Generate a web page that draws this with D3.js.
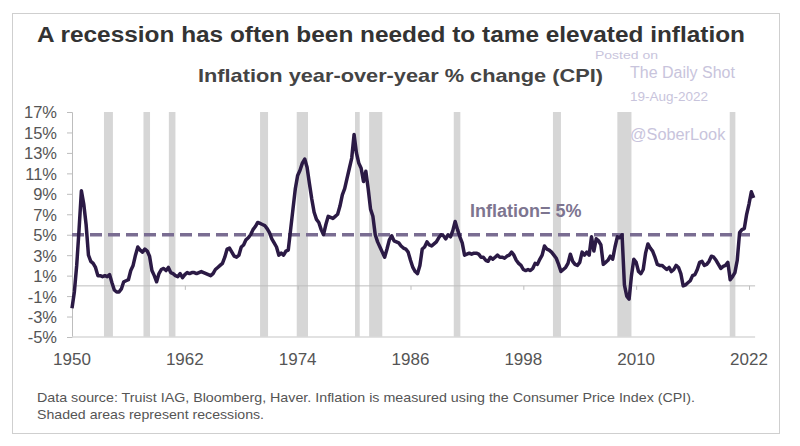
<!DOCTYPE html>
<html>
<head>
<meta charset="utf-8">
<script src="https://cdn.jsdelivr.net/npm/d3@7"></script>
<style>
  body { margin: 0; background: #fff; }
  text { font-family: 'Liberation Sans', Arial, sans-serif; }
</style>
</head>
<body>
<div id="app"></div>
<script>
'use strict'

// quarterly CPI YoY % change, starting Q1 1950
const firstYear = 1950
const inflation = [
  -2.2, -0.6, 2.0, 5.5,   9.3, 8.0, 6.0, 3.0,   2.4, 2.2, 1.8, 1.0,   1.0, 0.9, 1.0, 0.9,
  1.1, 0.3, -0.4, -0.6,   -0.6, -0.3, 0.4, 0.5,   0.6, 1.5, 2.0, 3.0,   3.8, 3.5, 3.3, 3.6,
  3.4, 2.9, 1.5, 1.0,   0.4, 1.2, 1.6, 1.7,   1.5, 1.8, 1.3, 1.2,   1.0, 0.9, 1.2, 0.8,
  1.1, 1.3, 1.2, 1.3,   1.3, 1.2, 1.3, 1.4,   1.3, 1.2, 1.1, 1.0,   1.2, 1.6, 1.8, 2.0,
  2.2, 2.8, 3.6, 3.7,   3.3, 2.9, 2.8, 3.0,   3.8, 4.0, 4.5, 4.7,   5.0, 5.5, 5.8, 6.2,
  6.1, 6.0, 5.9, 5.6,   5.2, 4.6, 4.2, 3.8,   3.0, 3.2, 3.0, 3.4,   3.5, 5.5, 7.5, 9.5,
  10.8, 11.3, 12.0, 12.4,   11.6, 10.0, 8.5, 7.2,   6.5, 6.2, 5.5, 5.0,   6.0, 6.8, 6.7, 6.6,
  6.8, 7.0, 7.8, 8.9,   9.5, 10.5, 11.5, 12.5,   14.8, 13.0, 12.0, 11.5,   10.2, 11.2, 9.5, 7.5,
  6.8, 5.0, 4.3, 3.8,   3.3, 2.8, 3.6, 4.5,   4.9, 4.4, 4.3, 4.2,   3.9, 3.7, 3.6, 3.3,
  2.5, 1.8, 1.4, 1.2,   2.0, 3.6, 3.8, 4.3,   4.0, 3.9, 4.1, 4.3,   4.7, 5.0, 4.9, 4.6,
  5.0, 4.8, 5.4, 6.3,   5.5, 4.8, 4.2, 3.0,   3.1, 3.2, 3.1, 3.2,   3.2, 3.1, 2.8, 2.8,
  2.5, 2.4, 2.8, 2.6,   2.8, 3.0, 2.8, 2.8,   2.7, 2.9, 3.0, 3.3,   3.0, 2.5, 2.2, 2.0,
  1.6, 1.5, 1.6, 1.5,   1.7, 2.2, 2.1, 2.6,   3.0, 3.9, 3.6, 3.5,   3.3, 3.0, 2.7, 2.1,
  1.4, 1.6, 1.8, 2.2,   3.1, 2.4, 2.1, 2.0,   2.3, 3.3, 3.0, 3.3,   3.0, 4.8, 3.4, 4.6,
  4.4, 4.0, 2.1, 2.3,   2.5, 2.9, 2.6, 3.8,   4.8, 4.7, 5.0, 0.1,   -1.0, -1.3, 1.0, 2.6,
  2.3, 1.4, 1.2, 1.6,   3.2, 4.1, 3.7, 3.4,   2.8, 2.1, 2.0, 2.0,   1.8, 1.6, 1.8, 1.4,
  1.6, 2.0, 1.8, 1.2,   0.0, 0.1, 0.3, 0.5,   1.0, 1.1, 1.6, 2.3,   2.4, 2.0, 2.1, 2.4,
  2.9, 2.8, 2.5, 2.1,   1.7, 1.9, 2.0, 2.3,   0.6, 0.9, 1.3, 2.5,   5.2, 5.5, 5.6, 7.0,
  8.0, 9.2, 8.6
]

// recessions as [start, end] in decimal years
const recessions = [
  [1953.4, 1954.35], [1957.6, 1958.3], [1960.3, 1961.0], [1970.0, 1970.85],
  [1973.9, 1975.1], [1980.1, 1980.6], [1981.6, 1983.0], [1990.6, 1991.3],
  [2001.15, 2002.0], [2008.0, 2009.5], [2019.95, 2020.55]
]

const xTicks = [1950, 1962, 1974, 1986, 1998, 2010, 2022]
const yTicks = [-5, -3, -1, 1, 3, 5, 7, 9, 11, 13, 15, 17]
const threshold = 5

const W = 800, H = 446
const svg = d3.select('#app').append('svg')
  .attr('width', W)
  .attr('height', H)

// frame
svg.append('rect')
  .attr('x', 12.5).attr('y', 13.5)
  .attr('width', 767).attr('height', 420)
  .style('fill', '#fff')
  .style('stroke', '#cfcfcf')

const xScale = d3.scaleLinear()
  .domain([1950, 2022])
  .range([72, 749])

const yScale = d3.scaleLinear()
  .domain([-5, 17])
  .range([337, 112])

/*
 * Recession shading
 */
svg.append('g').selectAll('rect')
  .data(recessions)
  .enter()
  .append('rect')
  .attr('x', d => xScale(d[0]))
  .attr('width', d => xScale(d[1]) - xScale(d[0]))
  .attr('y', yScale(17))
  .attr('height', yScale(-5) - yScale(17))
  .style('fill', '#d6d6d6')

/*
 * Axes
 */
const yAxis = svg.append('g')
  .attr('class', 'y axis')
  .attr('transform', `translate(${xScale(1950)}, 0)`)
  .call(d3.axisLeft(yScale).tickValues(yTicks).tickSize(5).tickPadding(10)
    .tickFormat(d => d + '%'))

yAxis.select('.domain').style('stroke', '#bdbdbd')
yAxis.selectAll('.tick line').style('stroke', '#bdbdbd')
yAxis.selectAll('.tick text')
  .style('font-size', '16.5px')
  .style('fill', '#555')
  .attr('dy', '0.36em')

// bottom frame line at -5%
svg.append('line')
  .attr('x1', xScale(1950)).attr('x2', xScale(2022.65))
  .attr('y1', yScale(-5)).attr('y2', yScale(-5))
  .style('stroke', '#d9d9d9')
  .style('stroke-width', 1.5)

// zero line with year ticks
const xAxis = svg.append('g')
  .attr('class', 'x axis')
  .attr('transform', `translate(0, ${yScale(0)})`)
  .call(d3.axisBottom(xScale).tickValues(xTicks).tickSize(4).tickFormat(''))

xAxis.select('.domain')
  .attr('d', `M${xScale(1950)},0H${xScale(2022.65)}`)
  .style('stroke', '#bdbdbd')
xAxis.selectAll('.tick line').style('stroke', '#bdbdbd')

svg.append('g').selectAll('text')
  .data(xTicks)
  .enter()
  .append('text')
  .attr('x', d => xScale(d))
  .attr('y', 365)
  .attr('text-anchor', 'middle')
  .style('font-size', '17px')
  .style('fill', '#555')
  .text(d => d)

/*
 * 5% threshold
 */
svg.append('line')
  .attr('x1', xScale(1950)).attr('x2', xScale(2022.65))
  .attr('y1', yScale(threshold)).attr('y2', yScale(threshold))
  .style('stroke', '#7a6d92')
  .style('stroke-width', 3.5)
  .style('stroke-dasharray', '12,6')

svg.append('text')
  .attr('x', 470)
  .attr('y', 217)
  .style('font-size', '18px')
  .style('font-weight', 'bold')
  .style('fill', '#7d7590')
  .text('Inflation= 5%')

/*
 * CPI line
 */
const line = d3.line()
  .x((d, i) => xScale(firstYear + i / 4))
  .y(d => yScale(d))

svg.append('path')
  .datum(inflation)
  .attr('d', line)
  .style('fill', 'none')
  .style('stroke', '#2b1a45')
  .style('stroke-width', 3.5)
  .style('stroke-linejoin', 'round')

/*
 * Titles, watermark, footnote
 */
svg.append('text')
  .attr('x', 37).attr('y', 42)
  .attr('textLength', 708)
  .attr('lengthAdjust', 'spacingAndGlyphs')
  .style('font-size', '22px')
  .style('font-weight', 'bold')
  .style('fill', '#333')
  .text('A recession has often been needed to tame elevated inflation')

svg.append('text')
  .attr('x', 198).attr('y', 82)
  .attr('textLength', 405)
  .attr('lengthAdjust', 'spacingAndGlyphs')
  .style('font-size', '18.5px')
  .style('font-weight', 'bold')
  .style('fill', '#444')
  .text('Inflation year-over-year % change (CPI)')

const mark = '#c8c4dc'
svg.append('text').attr('x', 595).attr('y', 59)
  .attr('textLength', 63).attr('lengthAdjust', 'spacingAndGlyphs')
  .style('font-size', '11px').style('fill', mark).text('Posted on')
svg.append('text').attr('x', 630).attr('y', 78)
  .style('font-size', '16px').style('fill', mark).text('The Daily Shot')
svg.append('text').attr('x', 630).attr('y', 101)
  .style('font-size', '13.5px').style('fill', mark).text('19-Aug-2022')
svg.append('text').attr('x', 630).attr('y', 140)
  .style('font-size', '16.3px').style('fill', mark).text('@SoberLook')

svg.append('text').attr('x', 37).attr('y', 402)
  .attr('textLength', 658).attr('lengthAdjust', 'spacingAndGlyphs')
  .style('font-size', '13.5px').style('fill', '#555')
  .text('Data source: Truist IAG, Bloomberg, Haver. Inflation is measured using the Consumer Price Index (CPI).')
svg.append('text').attr('x', 37).attr('y', 419)
  .attr('textLength', 227).attr('lengthAdjust', 'spacingAndGlyphs')
  .style('font-size', '13.5px').style('fill', '#555')
  .text('Shaded areas represent recessions.')
</script>
</body>
</html>
